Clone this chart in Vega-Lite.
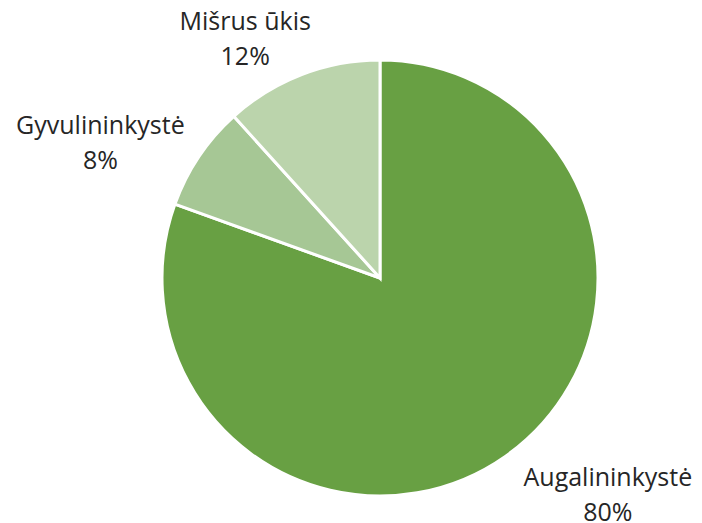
{
  "$schema": "https://vega.github.io/schema/vega-lite/v6.json",
  "width": 436,
  "height": 436,
  "autosize": {"type": "none"},
  "padding": {"left": 162, "top": 60, "right": 104, "bottom": 27},
  "background": "white",
  "config": {"view": {"stroke": null}},
  "data": {
    "values": [
      {"category": "Augalininkystė", "value": 80.5, "order": 1, "label": "Augalininkystė\n80%"},
      {"category": "Gyvulininkystė", "value": 7.8, "order": 2, "label": "Gyvulininkystė\n8%"},
      {"category": "Mišrus ūkis", "value": 11.7, "order": 3, "label": "Mišrus ūkis\n12%"}
    ]
  },
  "encoding": {
    "theta": {"field": "value", "type": "quantitative", "stack": true},
    "order": {"field": "order", "type": "quantitative"}
  },
  "layer": [
    {
      "mark": {"type": "arc", "outerRadius": 218, "stroke": "white", "strokeWidth": 3},
      "encoding": {
        "color": {
          "field": "category",
          "type": "nominal",
          "scale": {
            "domain": ["Augalininkystė", "Gyvulininkystė", "Mišrus ūkis"],
            "range": ["#68a043", "#a6c795", "#bbd4ac"]
          },
          "legend": null
        }
      }
    },
    {
      "mark": {"type": "text", "radius": 275, "dx": -36, "dy": 1, "lineBreak": "\n", "fontSize": 25, "font": "Open Sans", "color": "#262626", "align": "center", "baseline": "middle", "lineHeight": 35},
      "encoding": {"text": {"condition": {"test": "datum.category === 'Mišrus ūkis'", "field": "label", "type": "nominal"}, "value": ""}}
    },
    {
      "mark": {"type": "text", "radius": 315, "dx": -18, "dy": 23, "lineBreak": "\n", "fontSize": 25, "font": "Open Sans", "color": "#262626", "align": "center", "baseline": "middle", "lineHeight": 35},
      "encoding": {"text": {"condition": {"test": "datum.category === 'Gyvulininkystė'", "field": "label", "type": "nominal"}, "value": ""}}
    },
    {
      "mark": {"type": "text", "radius": 318, "dx": 45, "dy": -60, "lineBreak": "\n", "fontSize": 25, "font": "Open Sans", "color": "#262626", "align": "center", "baseline": "middle", "lineHeight": 35},
      "encoding": {"text": {"condition": {"test": "datum.category === 'Augalininkystė'", "field": "label", "type": "nominal"}, "value": ""}}
    }
  ]
}
